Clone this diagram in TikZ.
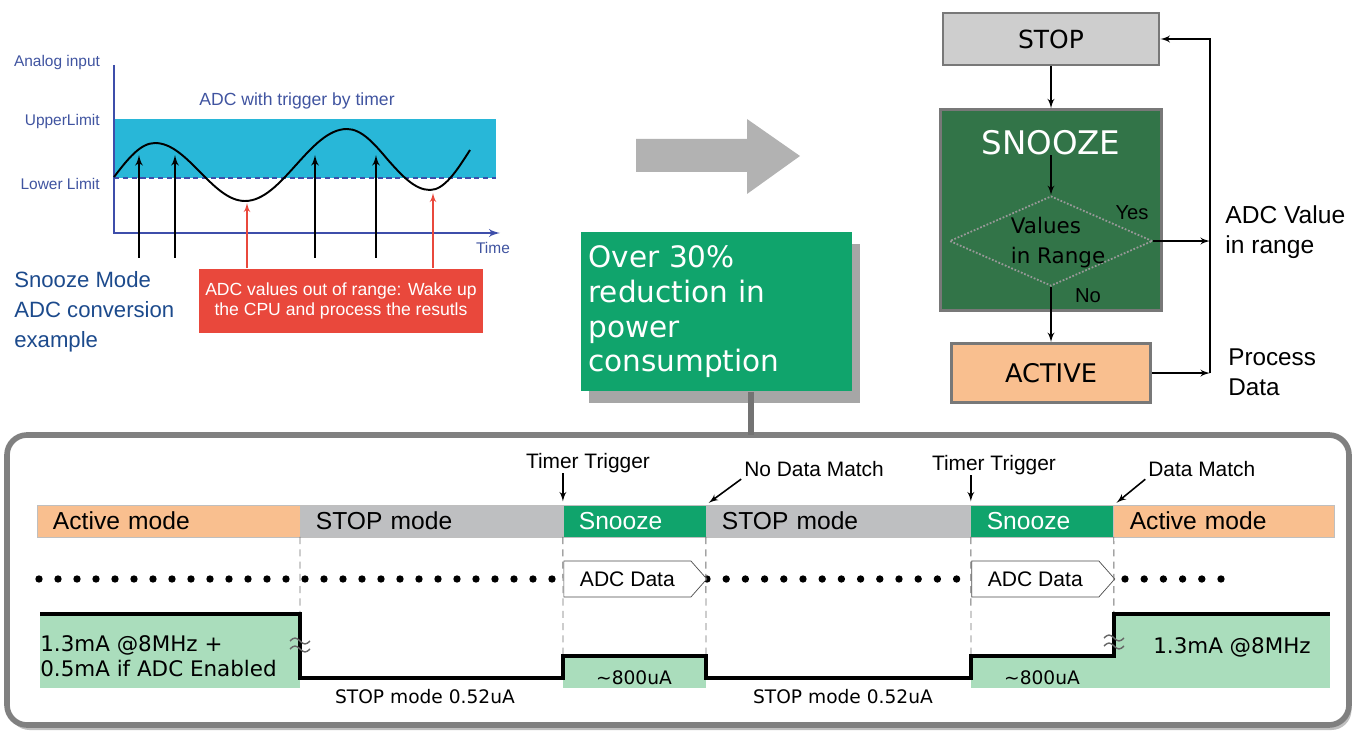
\documentclass[tikz,border=0pt]{standalone}
\usepackage{fontspec}
\setmainfont{Liberation Sans}
\newfontfamily\verdfont{DejaVu Sans}
\usepackage{tikz}
\usetikzlibrary{arrows,calc,positioning,shapes.geometric,shapes.symbols,shadows}

\definecolor{peach}{RGB}{249,191,143}
\definecolor{stopgray}{RGB}{190,191,193}
\definecolor{lightstop}{RGB}{206,206,206}
\definecolor{snzgreen}{RGB}{16,164,108}
\definecolor{curgreen}{RGB}{170,221,188}
\definecolor{darkgreen}{RGB}{50,116,72}
\definecolor{band}{RGB}{40,183,216}
\definecolor{axisblue}{RGB}{62,78,170}
\definecolor{lblblue}{RGB}{64,84,160}
\definecolor{titleblue}{RGB}{28,74,140}
\definecolor{alertred}{RGB}{233,72,60}
\definecolor{boxgray}{RGB}{120,120,120}
\definecolor{arrowgray}{RGB}{178,178,178}

\begin{document}
\begin{tikzpicture}[x=0.02cm,y=-0.02cm,>=latex',inner sep=0pt,
	seg/.style={rectangle,text width=#1,align=left,minimum height=0.64cm,inner xsep=0.32cm,outer sep=0pt,draw=black!25,font=\fontsize{14}{16}\selectfont},
	trig/.style={font=\fontsize{11.9}{14}\selectfont},
	adcdata/.style={signal,signal to=east,signal pointer angle=97,draw=black!70,fill=white,minimum width=2.86cm,minimum height=0.72cm,xshift=-0.14cm,font=\fontsize{12}{14}\selectfont},
	guide/.style={draw=black!55,line width=0.5pt,dash pattern=on 4pt off 3pt},
	wave/.style={line width=2.3pt},
	brk/.style={draw=black!60,line width=0.8pt},
	curlbl/.style={font=\verdfont\fontsize{12.2}{14.2}\selectfont},
	cursmall/.style={font=\verdfont\fontsize{10.6}{12}\selectfont},
	frame/.style={draw=black!50,line width=3.2pt,rounded corners=0.4cm,fill=white,drop shadow={shadow xshift=0.05cm,shadow yshift=-0.1cm,fill=black!25,opacity=1}},
	stem/.style={draw=black!55,line width=3.4pt},
	gbox/.style={fill=snzgreen,text=white,text width=5.14cm,inner xsep=0.14cm,minimum height=3.18cm,align=left,font=\verdfont\fontsize{16.8}{19.8}\selectfont,drop shadow={shadow xshift=0.16cm,shadow yshift=-0.24cm,fill=black!35,opacity=1}},
	fbox/.style={rectangle,draw=boxgray,line width=1.6pt},
	flow/.style={->,line width=0.9pt},
	glbl/.style={text=lblblue,font=\fontsize{8.8}{10}\selectfont},
	alert/.style={fill=alertred,text=white,minimum width=5.68cm,minimum height=1.3cm,align=center,font=\fontsize{10}{11.4}\selectfont}]

	\useasboundingbox (0,0) rectangle (1359,736);

	\fill[band] (114,119) rectangle (496,178);
	\draw[axisblue,line width=1pt,dash pattern=on 3pt off 2pt] (114,178) -- (496,178);
	\draw[axisblue,line width=1.2pt,->] (114,65) -- (114,233) -- (500,233);
	\draw[line width=1.1pt] (114,177) sin (155,143) cos (200,172) sin (245,201) cos (296,165) sin (347,129) cos (388,160) sin (430,190) cos (470,150);
	\foreach \ax in {139,175,315,376}
		\draw[->,line width=1.1pt] (\ax,258) -- (\ax,155);
	\node[glbl] (ain) at (57,63) {Analog input};
	\node[glbl,anchor=east] (upper) at (100,122) {UpperLimit};
	\node[glbl,anchor=east] (lower) at (100,184) {Lower Limit};
	\node[glbl] (tlbl) at (493,248) {Time};
	\node[text=lblblue,font=\fontsize{10}{12}\selectfont] (gtitle) at (297,101) {ADC with trigger by timer};
	\node[alert] (oor) at (341,301) {ADC values out of range: Wake up\\the CPU and process the resutls};
	\coordinate (hitA) at (247,203);
	\coordinate (hitB) at (433,193);
	\draw[->,alertred,line width=0.8pt] (oor.north -| hitA) -- (hitA);
	\draw[->,alertred,line width=0.8pt] (oor.north -| hitB) -- (hitB);
	\node[text=titleblue,anchor=north west,align=left,font=\fontsize{12.6}{17.2}\selectfont] (gname) at (14,271) {Snooze Mode\\ADC conversion\\example};

	\fill[arrowgray] (636,139) -- (747,139) -- (747,119) -- (800,156) -- (747,194) -- (747,172) -- (636,172) -- cycle;

	\node[fbox,fill=lightstop,minimum width=4.32cm,minimum height=1.04cm,font=\verdfont\fontsize{14.2}{16}\selectfont] (stop) at (1051,39) {STOP};
	\node[fbox,fill=darkgreen,minimum width=4.42cm,minimum height=4.02cm,below=0.84cm of stop] (snz) {};
	\node[fbox,fill=peach,minimum width=3.98cm,minimum height=1.18cm,below=0.6cm of snz,font=\verdfont\fontsize{14.6}{16}\selectfont] (act) {ACTIVE};
	\node[text=white,font=\verdfont\fontsize{18.5}{20}\selectfont,below=0.43cm of snz.north] (snztxt) {SNOOZE};
	\node[diamond,draw=black!40,densely dotted,line width=1pt,minimum width=4.06cm,minimum height=1.8cm,below=0.8cm of snztxt] (rng) {};
	\node[align=left,font=\verdfont\fontsize{12.2}{17}\selectfont] (rngtxt) at ([xshift=4pt,yshift=-1pt]rng.center) {Values\\in Range};
	\node[font=\fontsize{11.5}{13}\selectfont] (yes) at (1132,213) {Yes};
	\node[font=\fontsize{11.5}{13}\selectfont] (no) at (1088,296) {No};
	\coordinate (ret) at (1210,0);
	\path[flow]
		(stop) edge (snz)
		(snztxt) edge (rng)
		(rng) edge (act);
	\draw[flow] (rng.east) -- (rng.east -| ret);
	\draw[flow] (act.east) -- (act.east -| ret);
	\draw[flow] (act.east -| ret) |- (stop.east);
	\node[anchor=west,align=left,font=\fontsize{14}{17}\selectfont] (inrange) at (1225,232) {ADC Value\\in range};
	\node[anchor=west,align=left,font=\fontsize{13.8}{17}\selectfont] (procdata) at (1228,372) {Process\\Data};

	\draw[frame] (7,435) rectangle (1349,725);
	\node[gbox,anchor=north west] (gain) at (581,232) {Over 30\%\\reduction in\\power\\consumption};
	\coordinate (stemfoot) at (751,435);
	\draw[stem] (gain.south -| stemfoot) -- (stemfoot);

	\node[seg=4.62cm,fill=peach,anchor=west] (acta) at (37,521) {Active mode};
	\node[seg=4.62cm,fill=stopgray,right=0pt of acta] (stopa) {STOP mode};
	\node[seg=2.22cm,fill=snzgreen,text=white,right=0pt of stopa] (snza) {Snooze};
	\node[seg=4.66cm,fill=stopgray,right=0pt of snza] (stopb) {STOP mode};
	\node[seg=2.22cm,fill=snzgreen,text=white,right=0pt of stopb] (snzb) {Snooze};
	\node[seg=3.78cm,fill=peach,right=0pt of snzb] (actb) {Active mode};

	\node[trig] (tta) at (588,463) {Timer Trigger};
	\draw[->,line width=0.9pt,shorten >=2pt] (tta.south -| snza.north west) -- (snza.north west);
	\node[trig,anchor=west] (nomatch) at (744,469) {No Data Match};
	\draw[->,line width=0.9pt,shorten >=2pt,shorten <=2pt] (nomatch.south west) -- (stopb.north west);
	\node[trig] (ttb) at (994,465) {Timer Trigger};
	\draw[->,line width=0.9pt,shorten >=2pt] (ttb.south -| snzb.north west) -- (snzb.north west);
	\node[trig,anchor=west] (match) at (1148,469) {Data Match};
	\draw[->,line width=0.9pt,shorten >=2pt,shorten <=2pt] (match.south west) -- (actb.north west);

	\coordinate (dotrow) at (0,579);
	\foreach \i in {0,...,27}
		\fill (39+19*\i,579) circle (2.1pt);
	\foreach \i in {0,...,13}
		\fill (707+19.2*\i,579) circle (2.1pt);
	\foreach \i in {0,...,5}
		\fill (1125+19.2*\i,579) circle (2.1pt);
	\node[adcdata] (adca) at (snza.center |- dotrow) {ADC Data};
	\node[adcdata] (adcb) at (snzb.center |- dotrow) {ADC Data};

	\coordinate (w0) at (40,614);
	\coordinate (w1) at (300,614);
	\coordinate (w2) at (300,678);
	\coordinate (w3) at (563,678);
	\coordinate (w4) at (563,656);
	\coordinate (w5) at (706,656);
	\coordinate (w6) at (706,678);
	\coordinate (w7) at (971,678);
	\coordinate (w8) at (971,656);
	\coordinate (w9) at (1114,656);
	\coordinate (w10) at (1114,614);
	\coordinate (w11) at (1330,614);
	\coordinate (base) at (0,688);
	\fill[curgreen] (w0) rectangle (w2 |- base);
	\fill[curgreen] (w4) rectangle (w5 |- base);
	\fill[curgreen] (w8) rectangle (w9 |- base);
	\fill[curgreen] (w10) rectangle (w11 |- base);
	\draw[guide] (acta.south east) -- (w1);
	\draw[guide] (snza.south west) -- (w4);
	\draw[guide] (snza.south east) -- (w5);
	\draw[guide] (snzb.south west) -- (w8);
	\draw[guide] (snzb.south east) -- (w9);
	\draw[wave] (w0) -- (w1) -- (w2) -- (w3) -- (w4) -- (w5) -- (w6) -- (w7) -- (w8) -- (w9) -- (w10) -- (w11);
	\foreach \bx/\by in {300/645,1114/642}
		\foreach \dy in {-4,4}
			\draw[brk] (\bx-10,\by+\dy) sin (\bx-5,\by+\dy-3) cos (\bx,\by+\dy) sin (\bx+5,\by+\dy+3) cos (\bx+10,\by+\dy);

	\node[curlbl,anchor=west,align=left] (curact) at (40,656) {1.3mA @8MHz +\\0.5mA if ADC Enabled};
	\node[curlbl] (curactb) at (1232,647) {1.3mA @8MHz};
	\node[cursmall] (cursnza) at (634,678) {\textasciitilde800uA};
	\node[cursmall] (cursnzb) at (1042,678) {\textasciitilde800uA};
	\node[cursmall] (curstopa) at (425,697) {STOP mode 0.52uA};
	\node[cursmall] (curstopb) at (843,697) {STOP mode 0.52uA};
\end{tikzpicture}
\end{document}
